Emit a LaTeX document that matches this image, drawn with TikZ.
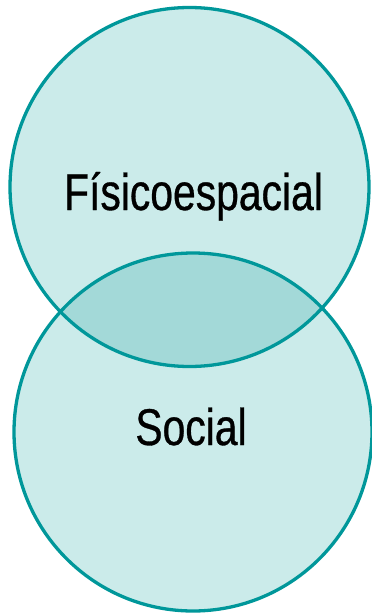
\documentclass[tikz,border=0pt]{standalone}
\usepackage{fontspec}
\newfontfamily\condfont[FakeStretch=0.79,FakeBold=0.6]{Liberation Sans}
\definecolor{circfill}{HTML}{CBEBEA}
\definecolor{interfill}{HTML}{A3D9D8}
\definecolor{circline}{HTML}{00979A}
\tikzset{
  label/.style={font=\condfont\fontsize{51.7}{60}\selectfont, text=black, inner sep=0pt, anchor=base},
  ring/.style={draw=circline, line width=3.3pt}
}
\begin{document}
\begin{tikzpicture}[x=1pt,y=-1pt]
\useasboundingbox (0,0) rectangle (372,613);
\coordinate (top) at (189.5,187);
\coordinate (bot) at (193,432);
\fill[circfill] (top) circle[radius=179.5];
\fill[circfill] (bot) circle[radius=179];
\begin{scope}
  \clip (top) circle[radius=179.5];
  \fill[interfill] (bot) circle[radius=179];
\end{scope}
\draw[ring] (top) circle[radius=179.5];
\draw[ring] (bot) circle[radius=179];
\node[label] (fis) at (193.5,210) {Físicoespacial};
\node[label] (soc) at (191,445) {Social};
\end{tikzpicture}
\end{document}
